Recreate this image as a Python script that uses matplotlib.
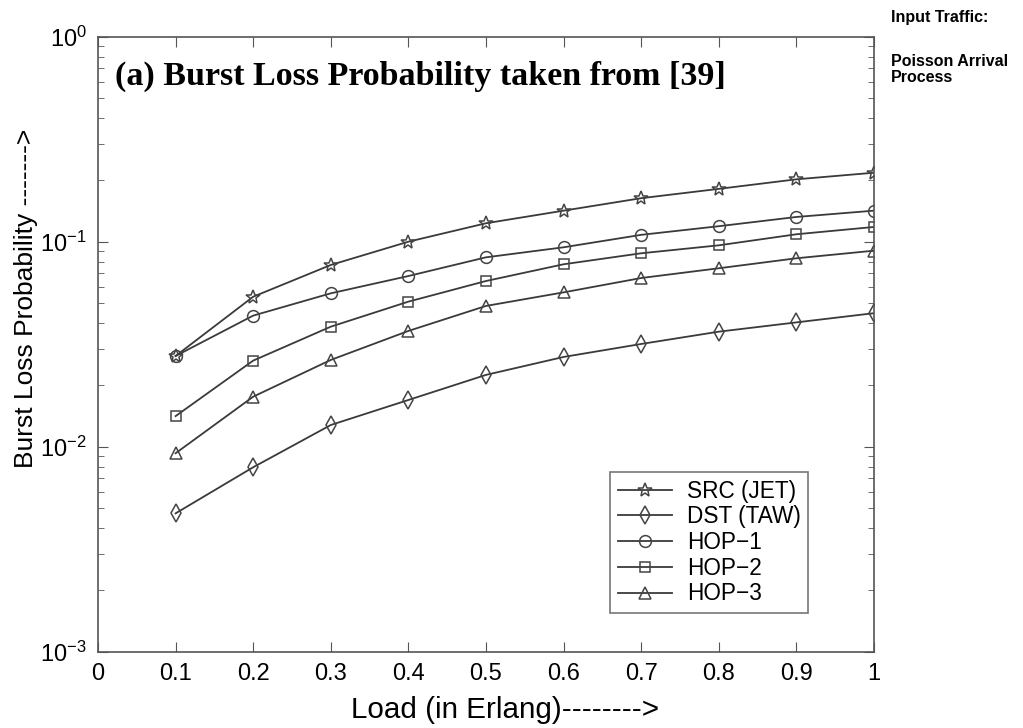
import matplotlib
matplotlib.use("Agg")
import matplotlib.pyplot as plt
from matplotlib.ticker import LogLocator, FixedLocator, NullFormatter

load = [0.1, 0.2, 0.3, 0.4, 0.5, 0.6, 0.7, 0.8, 0.9, 1.0]
src_jet = [0.0277, 0.0539, 0.0770, 0.100, 0.123, 0.1417, 0.163, 0.181, 0.2015, 0.217]
dst_taw = [0.00473, 0.00794, 0.01276, 0.0169, 0.0224, 0.0274, 0.0317, 0.0364, 0.0404, 0.0448]
hop1 = [0.0277, 0.0436, 0.0560, 0.068, 0.0839, 0.0939, 0.108, 0.119, 0.132, 0.1417]
hop2 = [0.0141, 0.0263, 0.0385, 0.0510, 0.0643, 0.0776, 0.0878, 0.0960, 0.1087, 0.118]
hop3 = [0.00929, 0.01754, 0.0265, 0.0367, 0.0486, 0.0566, 0.0665, 0.0742, 0.083, 0.0904]

series = [
    ("SRC (JET)", src_jet, "*", 10),
    ("DST (TAW)", dst_taw, "d", 9),
    ("HOP\u22121", hop1, "o", 8.5),
    ("HOP\u22122", hop2, "s", 7),
    ("HOP\u22123", hop3, "^", 9),
]
xticks = [0, 0.1, 0.2, 0.3, 0.4, 0.5, 0.6, 0.7, 0.8, 0.9, 1]
xticklabels = ["0", "0.1", "0.2", "0.3", "0.4", "0.5", "0.6", "0.7", "0.8", "0.9", "1"]

plt.rcParams['font.family'] = ['Liberation Sans', 'DejaVu Sans']

fig = plt.figure(figsize=(10.23, 7.28), dpi=100)
ax = fig.add_axes([0.0958, 0.1048, 0.7585, 0.8448])

line_color = "#3a3a3a"
for name, vals, mk, ms in series:
    ax.plot(load, vals, marker=mk, color=line_color, lw=1.3, ms=ms,
            mfc="none", mec="#444444", mew=1.1, label=name)

ax.set_yscale("log")
ax.set_xlim(0, 1)
ax.set_ylim(1e-3, 1)
ax.set_xticks(xticks)
ax.set_xticklabels(xticklabels)
ax.yaxis.set_major_locator(FixedLocator([1e-3, 1e-2, 1e-1, 1]))
ax.yaxis.set_minor_locator(LogLocator(base=10, subs=range(2, 10)))
ax.yaxis.set_minor_formatter(NullFormatter())
ax.tick_params(axis="both", which="both", direction="in", top=True, right=True,
               color="#555555")
ax.tick_params(axis="both", which="major", length=7, labelsize=17, pad=8)
ax.tick_params(axis="both", which="minor", length=4)
for s in ax.spines.values():
    s.set_color("#555555")
    s.set_linewidth(1.2)

ax.set_xlabel("Load (in Erlang)-------->", fontsize=21.3)
ax.xaxis.set_label_coords(0.5245, -0.072)
ax.set_ylabel("Burst Loss Probability ------->", fontsize=19)
ax.yaxis.set_label_coords(-0.077, 0.575)

ax.text(0.022, 0.935, "(a) Burst Loss Probability taken from [39]",
        transform=ax.transAxes, family="Liberation Serif", fontweight="bold",
        fontsize=24.5, va="center", ha="left")

leg = ax.legend(loc="upper left", bbox_to_anchor=(0.66, 0.292),
                fontsize=16.3, frameon=True, fancybox=False,
                edgecolor="#555555", handlelength=2.4, borderpad=0.33,
                labelspacing=0.12, handletextpad=0.65, borderaxespad=0)
leg.get_frame().set_linewidth(1.2)

fig.text(0.871, 0.976, "Input Traffic:", fontsize=11.5, fontweight="bold", va="center")
fig.text(0.871, 0.916, "Poisson Arrival", fontsize=11.5, fontweight="bold", va="center")
fig.text(0.871, 0.893, "Process", fontsize=11.5, fontweight="bold", va="center")

fig.savefig("out.png", dpi=100, facecolor="white")
